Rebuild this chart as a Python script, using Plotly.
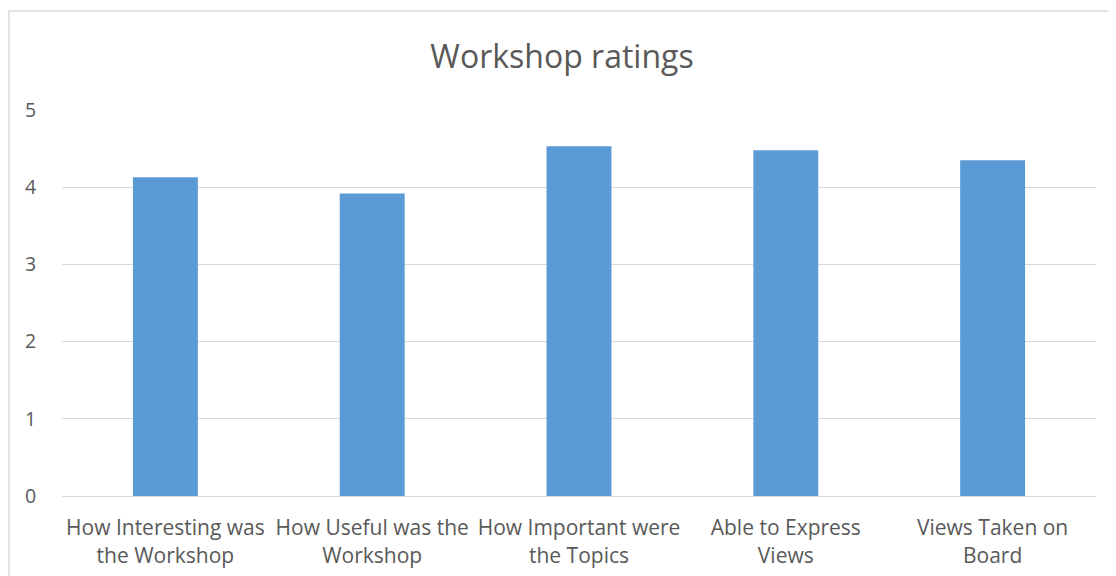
import plotly.graph_objects as go

categories = ["How Interesting was<br>the Workshop", "How Useful was the<br>Workshop",
              "How Important were<br>the Topics", "Able to Express<br>Views", "Views Taken on<br>Board"]
ratings = [4.13, 3.92, 4.53, 4.48, 4.35]
y_ticks = [0, 1, 2, 3, 4, 5]

W, H = 1108, 568
fig = go.Figure(go.Bar(x=categories, y=ratings, marker=dict(color="#5B9BD5", line=dict(width=0))))

fig.update_layout(
    width=W, height=H,
    margin=dict(l=54, r=20, t=102, b=80),
    paper_bgcolor="white", plot_bgcolor="white",
    bargap=0.686,
    font=dict(family="Open Sans", color="#595959", size=19),
    title=dict(text="Workshop ratings", x=0.5, xanchor="center", y=1 - 49 / H, yanchor="middle",
               font=dict(size=32, color="#595959")),
    showlegend=False,
)
fig.update_yaxes(range=[0, 5], tickvals=y_ticks, showgrid=True, gridcolor="#D9D9D9", gridwidth=1,
                 zeroline=False, showline=False, ticks="outside", ticklen=21, tickcolor="rgba(0,0,0,0)",
                 tickfont=dict(size=19.5), automargin=False)
fig.update_xaxes(showline=True, linecolor="#D9D9D9", linewidth=1, ticks="outside", ticklen=13,
                 tickcolor="rgba(0,0,0,0)", tickfont=dict(size=21), automargin=False)
fig.add_shape(type="rect", xref="paper", yref="paper",
              x0=(1 - 54) / 1034, x1=(1115 - 54) / 1034, y0=(488 - 600) / 386, y1=(488 - 3) / 386,
              line=dict(color="#D9D9D9", width=1.5), fillcolor="rgba(0,0,0,0)", layer="below")
fig.write_html("out.html")
